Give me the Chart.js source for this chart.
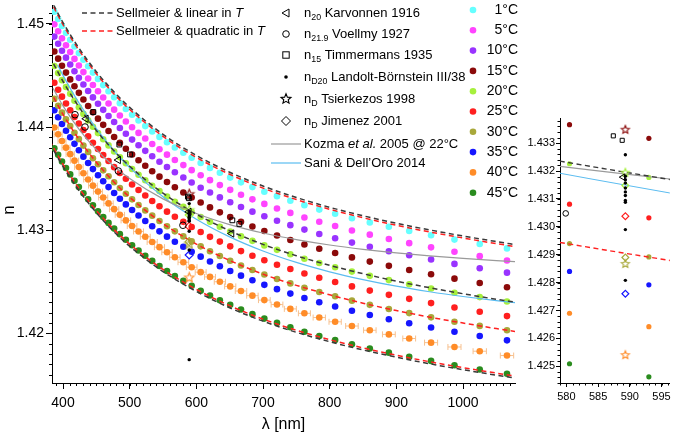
<!DOCTYPE html>
<html>
<head>
<meta charset="utf-8">
<script src="https://cdn.jsdelivr.net/npm/chart.js@4.4.0/dist/chart.umd.min.js"></script>
<style>
  html, body { margin: 0; padding: 0; background: #fff; }
  #wrap { position: relative; width: 675px; height: 438px; overflow: hidden; }
  #main { position: absolute; left: 0; top: 0; }
  #zoom { position: absolute; left: 520px; top: 0; }
</style>
</head>
<body>
<div id="wrap">
  <canvas id="main" width="675" height="438"></canvas>
  <canvas id="zoom" width="155" height="438"></canvas>
</div>
<script>
// measured wavelengths [nm], shared by all temperature series
const lambda = [387.0, 392.7, 398.5, 404.5, 410.8, 417.2, 423.8, 430.6, 437.7, 444.9, 452.5, 460.3, 468.3, 476.7, 485.3,
  494.3, 503.6, 513.3, 523.4, 533.8, 544.7, 556.0, 567.8, 580.5, 593.0, 606.5, 620.5, 635.3, 650.8, 667.0,
  684.1, 702.0, 721.0, 741.0, 762.1, 784.4, 808.2, 833.4, 860.2, 888.8, 919.3, 952.1, 987.2, 1025.1, 1066.0];

const n1C = [1.45116, 1.45047, 1.44979, 1.44912, 1.44846, 1.44780, 1.44716, 1.44652, 1.44589, 1.44527, 1.44466, 1.44406, 1.44347, 1.44288, 1.44231,
  1.44174, 1.44118, 1.44063, 1.44009, 1.43956, 1.43904, 1.43852, 1.43801, 1.43751, 1.43702, 1.43652, 1.43604, 1.43557, 1.43510, 1.43464,
  1.43418, 1.43373, 1.43330, 1.43286, 1.43243, 1.43200, 1.43159, 1.43116, 1.43075, 1.43034, 1.42993, 1.42952, 1.42909, 1.42867, 1.42824];
const n5C = [1.44996, 1.44927, 1.44859, 1.44792, 1.44726, 1.44660, 1.44596, 1.44532, 1.44469, 1.44407, 1.44346, 1.44286, 1.44227, 1.44168, 1.44111,
  1.44054, 1.43998, 1.43943, 1.43889, 1.43836, 1.43784, 1.43732, 1.43681, 1.43631, 1.43582, 1.43532, 1.43485, 1.43437, 1.43391, 1.43344,
  1.43299, 1.43255, 1.43211, 1.43168, 1.43124, 1.43082, 1.43041, 1.42998, 1.42957, 1.42915, 1.42875, 1.42834, 1.42792, 1.42749, 1.42707];
const n10C = [1.44876, 1.44807, 1.44739, 1.44672, 1.44606, 1.44540, 1.44476, 1.44412, 1.44349, 1.44287, 1.44226, 1.44166, 1.44107, 1.44048, 1.43991,
  1.43934, 1.43878, 1.43823, 1.43769, 1.43716, 1.43664, 1.43612, 1.43561, 1.43511, 1.43462, 1.43412, 1.43365, 1.43318, 1.43271, 1.43225,
  1.43180, 1.43136, 1.43092, 1.43049, 1.43006, 1.42963, 1.42922, 1.42880, 1.42839, 1.42797, 1.42757, 1.42716, 1.42674, 1.42632, 1.42589];
const n15C = [1.44731, 1.44662, 1.44594, 1.44527, 1.44461, 1.44395, 1.44331, 1.44267, 1.44204, 1.44142, 1.44081, 1.44021, 1.43962, 1.43903, 1.43846,
  1.43789, 1.43733, 1.43678, 1.43624, 1.43571, 1.43519, 1.43467, 1.43416, 1.43366, 1.43317, 1.43268, 1.43221, 1.43173, 1.43127, 1.43081,
  1.43036, 1.42992, 1.42949, 1.42906, 1.42862, 1.42820, 1.42779, 1.42737, 1.42696, 1.42655, 1.42615, 1.42574, 1.42531, 1.42489, 1.42447];
const n20C = [1.44591, 1.44522, 1.44454, 1.44387, 1.44321, 1.44255, 1.44191, 1.44127, 1.44064, 1.44002, 1.43941, 1.43881, 1.43822, 1.43763, 1.43706,
  1.43649, 1.43593, 1.43538, 1.43484, 1.43431, 1.43379, 1.43327, 1.43276, 1.43226, 1.43177, 1.43128, 1.43081, 1.43034, 1.42988, 1.42942,
  1.42897, 1.42853, 1.42810, 1.42767, 1.42724, 1.42682, 1.42641, 1.42599, 1.42558, 1.42517, 1.42477, 1.42436, 1.42394, 1.42352, 1.42310];
const n25C = [1.44429, 1.44361, 1.44294, 1.44228, 1.44162, 1.44097, 1.44034, 1.43971, 1.43909, 1.43847, 1.43787, 1.43728, 1.43670, 1.43611, 1.43555,
  1.43499, 1.43443, 1.43389, 1.43336, 1.43283, 1.43232, 1.43180, 1.43130, 1.43081, 1.43032, 1.42983, 1.42936, 1.42890, 1.42844, 1.42798,
  1.42753, 1.42709, 1.42666, 1.42624, 1.42581, 1.42539, 1.42498, 1.42456, 1.42415, 1.42374, 1.42335, 1.42294, 1.42252, 1.42210, 1.42168];
const n30C = [1.44273, 1.44206, 1.44139, 1.44074, 1.44010, 1.43945, 1.43883, 1.43820, 1.43759, 1.43698, 1.43639, 1.43580, 1.43523, 1.43465, 1.43409,
  1.43354, 1.43299, 1.43245, 1.43192, 1.43141, 1.43090, 1.43039, 1.42989, 1.42940, 1.42892, 1.42844, 1.42797, 1.42750, 1.42705, 1.42659,
  1.42614, 1.42571, 1.42528, 1.42485, 1.42442, 1.42401, 1.42360, 1.42318, 1.42277, 1.42237, 1.42197, 1.42156, 1.42114, 1.42073, 1.42031];
const n35C = [1.44162, 1.44095, 1.44029, 1.43964, 1.43901, 1.43837, 1.43775, 1.43713, 1.43652, 1.43592, 1.43533, 1.43475, 1.43418, 1.43360, 1.43305,
  1.43250, 1.43196, 1.43143, 1.43090, 1.43039, 1.42989, 1.42938, 1.42889, 1.42840, 1.42792, 1.42744, 1.42697, 1.42651, 1.42605, 1.42560,
  1.42515, 1.42471, 1.42429, 1.42386, 1.42344, 1.42302, 1.42261, 1.42220, 1.42179, 1.42138, 1.42099, 1.42058, 1.42016, 1.41975, 1.41933];
const n40C = [1.43995, 1.43929, 1.43864, 1.43800, 1.43737, 1.43674, 1.43613, 1.43552, 1.43491, 1.43432, 1.43374, 1.43317, 1.43260, 1.43204, 1.43149,
  1.43095, 1.43041, 1.42988, 1.42937, 1.42886, 1.42836, 1.42787, 1.42738, 1.42690, 1.42642, 1.42594, 1.42548, 1.42501, 1.42456, 1.42411,
  1.42366, 1.42323, 1.42280, 1.42238, 1.42195, 1.42154, 1.42113, 1.42072, 1.42031, 1.41991, 1.41951, 1.41911, 1.41869, 1.41828, 1.41786];
const n45C = [1.43794, 1.43730, 1.43666, 1.43603, 1.43541, 1.43479, 1.43418, 1.43358, 1.43299, 1.43241, 1.43183, 1.43127, 1.43071, 1.43016, 1.42962,
  1.42908, 1.42855, 1.42804, 1.42753, 1.42703, 1.42654, 1.42605, 1.42557, 1.42509, 1.42462, 1.42414, 1.42368, 1.42322, 1.42277, 1.42232,
  1.42187, 1.42144, 1.42102, 1.42060, 1.42017, 1.41976, 1.41936, 1.41895, 1.41854, 1.41814, 1.41774, 1.41734, 1.41692, 1.41651, 1.41610];
// horizontal error (+/- nm) of the 40 C series
const err40 = [6, 6, 6, 6, 6.2, 6.2, 6.4, 6.4, 6.6, 6.6, 6.8, 6.8, 7, 7, 7, 7.2, 7.2, 7.4, 7.4, 7.6, 7.6, 7.8, 7.8,
  8, 8, 8.2, 8.2, 8.4, 8.4, 8.6, 8.6, 8.8, 8.8, 9, 9, 9.2, 9.2, 9.4, 9.4, 9.6, 9.6, 9.8, 9.8, 10, 10];

const tempLabels = ['1°C', '5°C', '10°C', '15°C', '20°C', '25°C', '30°C', '35°C', '40°C', '45°C'];
const tempColors = ['#66ffff', '#ff44ff', '#9933ff', '#8b0a0a', '#a6f03c', '#ff1f1f', '#a8a83a', '#1616ff', '#ff8c28', '#2a8c1e'];
const tempSeries = [n1C, n5C, n10C, n15C, n20C, n25C, n30C, n35C, n40C, n45C];

// model curves
const modelLam = [380, 400, 425, 450, 475, 500, 550, 600, 650, 700, 750, 800, 850, 900, 950, 1000, 1050, 1080];
const linT1 = [1.45255, 1.45012, 1.44754, 1.44536, 1.44350, 1.44190, 1.43929, 1.43725, 1.43562, 1.43428, 1.43317, 1.43222, 1.43140, 1.43067, 1.43003, 1.42944, 1.42890, 1.42859];
const quadT1 = [1.45235, 1.44992, 1.44734, 1.44516, 1.44330, 1.44170, 1.43909, 1.43705, 1.43542, 1.43408, 1.43297, 1.43203, 1.43121, 1.43048, 1.42983, 1.42925, 1.42870, 1.42840];
const linT20 = [1.44685, 1.44442, 1.44184, 1.43966, 1.43780, 1.43620, 1.43359, 1.43156, 1.42995, 1.42863, 1.42753, 1.42660, 1.42579, 1.42507, 1.42443, 1.42385, 1.42331, 1.42301];
const quadT30 = [1.44360, 1.44123, 1.43871, 1.43658, 1.43477, 1.43320, 1.43065, 1.42866, 1.42707, 1.42575, 1.42466, 1.42374, 1.42293, 1.42222, 1.42158, 1.42101, 1.42047, 1.42017];
const linT45 = [1.43844, 1.43617, 1.43375, 1.43170, 1.42995, 1.42845, 1.42600, 1.42407, 1.42249, 1.42119, 1.42011, 1.41920, 1.41840, 1.41770, 1.41706, 1.41649, 1.41596, 1.41566];
const quadT45 = [1.43867, 1.43639, 1.43396, 1.43191, 1.43016, 1.42866, 1.42620, 1.42427, 1.42269, 1.42139, 1.42031, 1.41940, 1.41860, 1.41789, 1.41726, 1.41669, 1.41616, 1.41586];
const kozmaLam = [385, 400, 425, 450, 475, 500, 550, 600, 650, 700, 750, 800, 850, 900, 950, 1000, 1050, 1080];
const kozmaN = [1.44376, 1.44205, 1.43970, 1.43781, 1.43627, 1.43500, 1.43304, 1.43162, 1.43055, 1.42973, 1.42909, 1.42857, 1.42815, 1.42780, 1.42751, 1.42727, 1.42706, 1.42695];
const saniLam = [392, 400, 425, 450, 475, 500, 550, 600, 650, 700, 750, 800, 850, 900, 950, 1000, 1050, 1080];
const saniN = [1.44600, 1.44500, 1.44221, 1.43984, 1.43782, 1.43607, 1.43324, 1.43107, 1.42936, 1.42799, 1.42688, 1.42597, 1.42522, 1.42458, 1.42404, 1.42358, 1.42318, 1.42297];

// literature values
const karvLam = [434.5, 483.0, 588.9, 653.0];
const karvN = [1.44080, 1.43680, 1.43178, 1.42968];
const voelLam = [418.0, 433.0, 483.0, 579.9];
const voelN = [1.44119, 1.44000, 1.43574, 1.43048];
const timmLam = [445.5, 484.5, 500.5, 587.4, 588.8, 654.0, 664.5];
const timmN = [1.44145, 1.43830, 1.43734, 1.43326, 1.43310, 1.43096, 1.43061];
const lamD = 589.3;
const landoltN = [1.43258, 1.43181, 1.43169, 1.43157, 1.43139, 1.43125, 1.43112, 1.43094, 1.43088, 1.42990, 1.42808, 1.41746];
const tsierN = [1.43348, 1.43194, 1.42867, 1.42540];
const tsierColors = ['#8b0a0a', '#a6f03c', '#a8a83a', '#ff8c28'];
const jimN = [1.43148, 1.43038, 1.42890, 1.42760];
const jimColors = ['#a6f03c', '#ff1f1f', '#a8a83a', '#1616ff'];

const xMajor = [400, 500, 600, 700, 800, 900, 1000];
const yMajor = [1.42, 1.43, 1.44, 1.45];
const zxMajor = [580, 585, 590, 595];
const zyMajor = [1.425, 1.426, 1.427, 1.428, 1.429, 1.430, 1.431, 1.432, 1.433];

const FONT = "'Liberation Sans', Arial, Helvetica, sans-serif";
Chart.defaults.font.family = FONT;
Chart.defaults.color = '#000';

const BLACK_DASH = '#3a3a3a', RED_DASH = '#ff2020', GRAY = '#9a9a9a', SANI = '#5bbcf0';

function pts(xs, ys) { return xs.map((x, i) => ({x: x, y: ys[i]})); }
function column(x, ys) { return ys.map(y => ({x: x, y: y})); }

function makeStar(color, R) {
  const c = document.createElement('canvas');
  const s = Math.ceil(2 * R + 3);
  c.width = s; c.height = s;
  const g = c.getContext('2d');
  g.strokeStyle = color; g.lineWidth = 1.1;
  g.beginPath();
  for (let k = 0; k < 10; k++) {
    const r = k % 2 ? R * 0.45 : R;
    const a = -Math.PI / 2 + k * Math.PI / 5;
    g.lineTo(s / 2 + r * Math.cos(a), s / 2 + r * Math.sin(a));
  }
  g.closePath(); g.stroke();
  return c;
}

function tempSets(r) {
  return tempSeries.map((s, k) => ({
    label: tempLabels[k], data: pts(lambda, s), showLine: false,
    pointRadius: r, pointHoverRadius: r, pointBackgroundColor: tempColors[k], pointBorderWidth: 0, order: 3
  }));
}
function curve(xs, ys, color, dash, w) {
  return { data: pts(xs, ys), showLine: true, pointRadius: 0, borderColor: color, borderDash: dash,
    borderWidth: w, cubicInterpolationMode: 'monotone', order: 2 };
}
function markerSets(k) {
  const none = 'rgba(0,0,0,0)';
  return [
    { data: pts(karvLam, karvN), pointStyle: 'triangle', pointRotation: -90, pointRadius: 4.2 * k,
      pointBackgroundColor: none, pointBorderColor: '#000', pointBorderWidth: 1, order: 1 },
    { data: pts(voelLam, voelN), pointStyle: 'circle', pointRadius: 3.3 * k,
      pointBackgroundColor: none, pointBorderColor: '#000', pointBorderWidth: 1, order: 1 },
    { data: pts(timmLam, timmN), pointStyle: 'rect', pointRadius: 3.4 * k,
      pointBackgroundColor: none, pointBorderColor: '#000', pointBorderWidth: 1, order: 1 },
    { data: column(lamD, landoltN), pointStyle: 'circle', pointRadius: 1.7,
      pointBackgroundColor: '#000', pointBorderWidth: 0, order: 1 },
    { data: column(lamD, tsierN), pointStyle: tsierColors.map(c => makeStar(c, 5 * k)), order: 1 },
    { data: column(lamD, jimN), pointStyle: 'rectRot', pointRadius: 4 * k,
      pointBackgroundColor: none, pointBorderColor: jimColors, pointBorderWidth: 1.2, order: 1 }
  ];
}

// minor ticks on both axes
const minorTicks = {
  id: 'minorTicks',
  afterDraw(chart, args, o) {
    const {ctx, chartArea: a, scales: {x, y}} = chart;
    ctx.save();
    ctx.strokeStyle = '#000'; ctx.lineWidth = 1;
    ctx.beginPath();
    const i0 = Math.ceil(x.min / o.x), i1 = Math.floor(x.max / o.x);
    for (let i = i0; i <= i1; i++) {
      const px = Math.round(x.getPixelForValue(i * o.x)) + 0.5;
      ctx.moveTo(px, a.bottom); ctx.lineTo(px, a.bottom + o.len);
    }
    const j0 = Math.ceil(y.min / o.y - 1e-6), j1 = Math.floor(y.max / o.y + 1e-6);
    for (let j = j0; j <= j1; j++) {
      const py = Math.round(y.getPixelForValue(j * o.y)) + 0.5;
      ctx.moveTo(a.left, py); ctx.lineTo(a.left - o.len, py);
    }
    ctx.stroke();
    ctx.restore();
  }
};

const errorBars = {
  id: 'errorBars',
  beforeDatasetsDraw(chart) {
    const {ctx, chartArea: a, scales: {x, y}} = chart;
    ctx.save();
    ctx.beginPath(); ctx.rect(a.left, a.top, a.right - a.left, a.bottom - a.top); ctx.clip();
    ctx.strokeStyle = '#f7c08e'; ctx.lineWidth = 1;
    ctx.beginPath();
    lambda.forEach((l, i) => {
      const py = y.getPixelForValue(n40C[i]);
      const x1 = x.getPixelForValue(l - err40[i]), x2 = x.getPixelForValue(l + err40[i]);
      ctx.moveTo(x1, py); ctx.lineTo(x2, py);
      ctx.moveTo(x1, py - 3); ctx.lineTo(x1, py + 3);
      ctx.moveTo(x2, py - 3); ctx.lineTo(x2, py + 3);
    });
    ctx.stroke();
    ctx.restore();
  }
};

function drawRich(ctx, x, y, parts, size) {
  parts.forEach(p => {
    const fs = p.sub ? size * 0.68 : size;
    ctx.font = (p.it ? 'italic ' : '') + fs + 'px ' + FONT;
    ctx.fillText(p.t, x, p.sub ? y + size * 0.33 : y);
    x += ctx.measureText(p.t).width;
  });
}

const legendDraw = {
  id: 'legendDraw',
  afterDraw(chart) {
    const ctx = chart.ctx;
    ctx.save();
    ctx.fillStyle = '#000';
    ctx.textBaseline = 'middle';
    // model lines
    [[13, BLACK_DASH, 'linear'], [31, RED_DASH, 'quadratic']].forEach(([y, c, w]) => {
      ctx.strokeStyle = c; ctx.lineWidth = 1.5; ctx.setLineDash([5, 3.5]);
      ctx.beginPath(); ctx.moveTo(82, y); ctx.lineTo(113, y); ctx.stroke();
      ctx.setLineDash([]);
      drawRich(ctx, 116, y, [{t: 'Sellmeier & ' + w + ' in '}, {t: 'T', it: true}], 13);
    });
    // literature entries
    const rows = [
      [{t: 'n'}, {t: '20', sub: true}, {t: ' Karvonnen 1916'}],
      [{t: 'n'}, {t: '21.9', sub: true}, {t: ' Voellmy 1927'}],
      [{t: 'n'}, {t: '15', sub: true}, {t: ' Timmermans 1935'}],
      [{t: 'n'}, {t: 'D20', sub: true}, {t: ' Landolt-Börnstein III/38'}],
      [{t: 'n'}, {t: 'D', sub: true}, {t: ' Tsierkezos 1998'}],
      [{t: 'n'}, {t: 'D', sub: true}, {t: ' Jimenez 2001'}],
      [{t: 'Kozma '}, {t: 'et al.', it: true}, {t: ' 2005 @ 22°C'}],
      [{t: 'Sani & Dell’Oro 2014'}]
    ];
    const ys = [13, 34, 55, 77, 99, 121, 144, 163];
    rows.forEach((r, i) => drawRich(ctx, 304, ys[i], r, 13));
    const mx = 286;
    ctx.strokeStyle = '#000'; ctx.lineWidth = 1;
    ctx.beginPath(); ctx.moveTo(mx - 4, 13); ctx.lineTo(mx + 3, 9); ctx.lineTo(mx + 3, 17); ctx.closePath(); ctx.stroke();
    ctx.beginPath(); ctx.arc(mx, 34, 3.3, 0, 2 * Math.PI); ctx.stroke();
    ctx.strokeRect(mx - 3.2, 51.8, 6.4, 6.4);
    ctx.beginPath(); ctx.arc(mx, 77, 1.8, 0, 2 * Math.PI); ctx.fill();
    const st = makeStar('#000', 5.2);
    ctx.drawImage(st, mx - st.width / 2, 99 - st.height / 2);
    ctx.beginPath(); ctx.moveTo(mx, 116.5); ctx.lineTo(mx + 4.5, 121); ctx.lineTo(mx, 125.5); ctx.lineTo(mx - 4.5, 121); ctx.closePath(); ctx.stroke();
    ctx.lineWidth = 1.2;
    ctx.strokeStyle = GRAY; ctx.beginPath(); ctx.moveTo(271, 144); ctx.lineTo(301, 144); ctx.stroke();
    ctx.strokeStyle = SANI; ctx.beginPath(); ctx.moveTo(271, 163); ctx.lineTo(301, 163); ctx.stroke();
    // temperatures
    ctx.textAlign = 'right';
    ctx.font = '14px ' + FONT;
    tempLabels.forEach((t, k) => {
      const y = 10 + k * 20.3;
      ctx.fillStyle = tempColors[k];
      ctx.beginPath(); ctx.arc(473, y, 3.3, 0, 2 * Math.PI); ctx.fill();
      ctx.fillStyle = '#000';
      ctx.fillText(t, 518, y);
    });
    // y axis title
    ctx.textAlign = 'center';
    ctx.translate(9, 210); ctx.rotate(-Math.PI / 2);
    ctx.font = '17px ' + FONT;
    ctx.fillText('n', 0, 0);
    ctx.restore();
  }
};

function axis(min, max, major, fmt, size, tl, pad, fit) {
  return {
    type: 'linear', min: min, max: max,
    afterBuildTicks: s => { s.ticks = major.map(v => ({value: v})); },
    ticks: { font: {size: size}, color: '#000', padding: pad, autoSkip: false, maxRotation: 0, callback: fmt },
    grid: { drawOnChartArea: false, drawTicks: true, tickLength: tl, color: '#000' },
    border: { display: true, color: '#000', width: 1 },
    afterFit: fit
  };
}

const mainX = axis(383.5, 1078, xMajor, v => String(v), 14, 6, 6,
  s => { s.height = 55; s.paddingLeft = 0; s.paddingRight = 0; });
mainX.title = { display: true, text: 'λ [nm]', font: {size: 16}, color: '#000', padding: {top: 0, bottom: 4} };

new Chart(document.getElementById('main'), {
  type: 'scatter',
  data: {
    datasets: [
      ...markerSets(1),
      curve(modelLam, linT1, BLACK_DASH, [5, 3.5], 1.5),
      curve(modelLam, quadT1, RED_DASH, [5, 3.5], 1.5),
      curve(modelLam, linT20, BLACK_DASH, [5, 3.5], 1.5),
      curve(modelLam, quadT30, RED_DASH, [5, 3.5], 1.5),
      curve(modelLam, linT45, BLACK_DASH, [5, 3.5], 1.5),
      curve(modelLam, quadT45, RED_DASH, [5, 3.5], 1.5),
      curve(kozmaLam, kozmaN, GRAY, [], 1.2),
      curve(saniLam, saniN, SANI, [], 1.2),
      ...tempSets(3.3)
    ]
  },
  options: {
    responsive: false, animation: false, events: [],
    layout: { padding: {top: 2, right: 160, left: 0, bottom: 0} },
    scales: {
      x: mainX,
      y: axis(1.4152, 1.4518, yMajor, v => v.toFixed(2), 14, 6, 2,
        s => { s.width = 52; s.paddingTop = 0; s.paddingBottom = 0; })
    },
    plugins: { legend: {display: false}, tooltip: {enabled: false}, minorTicks: {x: 10, y: 0.001, len: 3} }
  },
  plugins: [errorBars, minorTicks, legendDraw]
});

new Chart(document.getElementById('zoom'), {
  type: 'scatter',
  data: {
    datasets: [
      ...markerSets(0.85),
      curve(modelLam, linT20, BLACK_DASH, [5, 3.5], 1.4),
      curve(modelLam, quadT30, RED_DASH, [5, 3.5], 1.4),
      curve(kozmaLam, kozmaN, GRAY, [], 1.1),
      curve(saniLam, saniN, SANI, [], 1.1),
      ...tempSets(2.6)
    ]
  },
  options: {
    responsive: false, animation: false, events: [],
    layout: { padding: {top: 118, right: 0, left: 0, bottom: 0} },
    scales: {
      x: axis(579.0, 596.3, zxMajor, v => String(v), 11, 4, 3,
        s => { s.height = 55; s.paddingLeft = 0; s.paddingRight = 0; }),
      y: axis(1.4244, 1.4339, zyMajor, v => v.toFixed(3), 11, 4, 1,
        s => { s.width = 40; s.paddingTop = 0; s.paddingBottom = 0; })
    },
    plugins: { legend: {display: false}, tooltip: {enabled: false}, minorTicks: {x: 1, y: 0.0002, len: 2.5} }
  },
  plugins: [minorTicks]
});
</script>
</body>
</html>
